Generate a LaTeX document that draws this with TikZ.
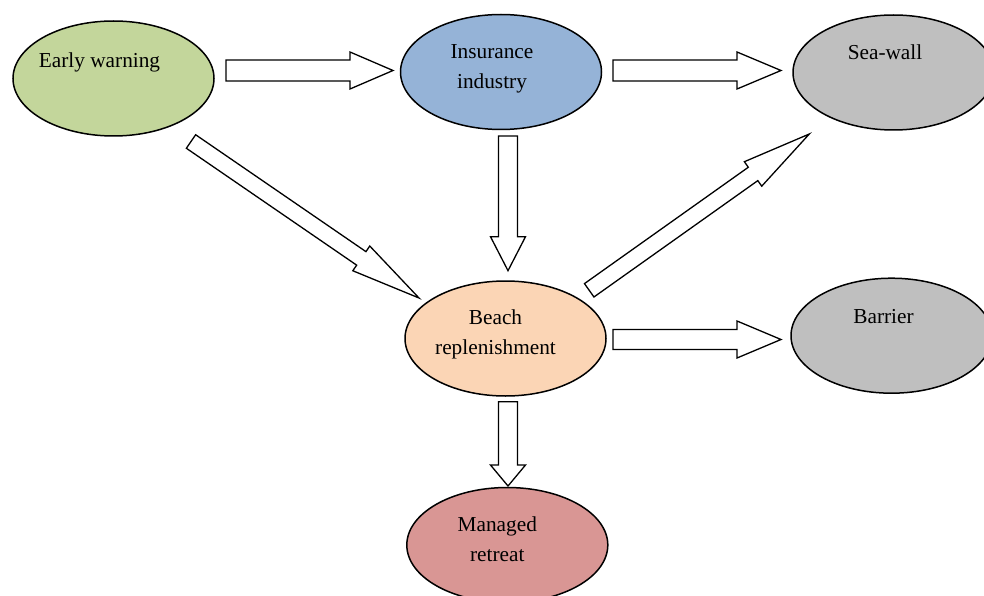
\documentclass[tikz,border=0pt]{standalone}
\usepackage{fontspec}
\setmainfont{Liberation Serif}
\usetikzlibrary{shapes.geometric,calc}

\definecolor{ewgreen}{HTML}{C3D69B}
\definecolor{insblue}{HTML}{95B3D7}
\definecolor{wallgray}{HTML}{BFBFBF}
\definecolor{beachtan}{HTML}{FBD5B5}
\definecolor{retreatred}{HTML}{D99694}

\tikzset{
  oval/.style={ellipse, draw=black, line width=1.5pt, inner sep=0pt,
    minimum width=201pt, minimum height=115pt},
  lbl/.style={anchor=base, inner sep=0pt, font=\fontsize{21.3}{30}\selectfont},
  blockarrow/.style={draw=black, fill=white, line width=1.3pt, line join=miter},
}

% hollow block arrow: #1 tail, #2 tip, #3 half shaft width,
% #4 half head width, #5 head length
\newcommand\blockarrow[5]{%
  \coordinate (ba-hb) at ($(#2)!#5!(#1)$);
  \draw[blockarrow]
    ($(#1)!#3!90:(#2)$) --
    ($(ba-hb)!#3!90:(#2)$) --
    ($(ba-hb)!#4!90:(#2)$) --
    (#2) --
    ($(ba-hb)!#4!-90:(#2)$) --
    ($(ba-hb)!#3!-90:(#2)$) --
    ($(#1)!#3!-90:(#2)$) -- cycle;
}

\newcommand\twolines[2]{\begin{tabular}[t]{@{}c@{}}#1\\#2\end{tabular}}

\begin{document}
\begin{tikzpicture}[x=1pt, y=-1pt]
\useasboundingbox (0,0) rectangle (984,596);
\clip (0,0) rectangle (984,596);

% ovals
\node[oval, fill=ewgreen]    (ew)  at (113.5,78.5) {};
\node[oval, fill=insblue]    (ins) at (501,72) {};
\node[oval, fill=wallgray]   (sw)  at (893.5,72.5) {};
\node[oval, fill=beachtan]   (bch) at (505.5,338.5) {};
\node[oval, fill=wallgray]   (bar) at (891.5,335.7) {};
\node[oval, fill=retreatred] (mr)  at (507.3,545) {};

% labels
\node[lbl] (ew-t)  at ($(ew)+(-14,-10.5)$)  {Early warning};
\node[lbl] (ins-t) at ($(ins)+(-9,-13)$)    {\twolines{Insurance}{industry}};
\node[lbl] (sw-t)  at ($(sw)+(-8.5,-12.5)$) {Sea-wall};
\node[lbl] (bch-t) at ($(bch)+(-10,-14.5)$) {\twolines{Beach}{replenishment}};
\node[lbl] (bar-t) at ($(bar)+(-8,-12.4)$)  {Barrier};
\node[lbl] (mr-t)  at ($(mr)+(-10,-13.5)$)  {\twolines{Managed}{retreat}};

% arrow ends
\coordinate (a1s) at (226,70.5);   \coordinate (a1e) at (393,70.5);
\coordinate (a2s) at (613,70.5);   \coordinate (a2e) at (781,70.5);
\coordinate (a3s) at (613,339.5);  \coordinate (a3e) at (781,339.5);
\coordinate (v1s) at (508,136);    \coordinate (v1e) at (508,270.7);
\coordinate (v2s) at (508,401.7);  \coordinate (v2e) at (508,486);
\coordinate (d1s) at (191,141.5);  \coordinate (d1e) at (419,298);
\coordinate (d2s) at (589.2,290.3);\coordinate (d2e) at (809.3,134);

% arrows
\blockarrow{a1s}{a1e}{10.5pt}{18.5pt}{43pt}
\blockarrow{a2s}{a2e}{10.5pt}{18.5pt}{44pt}
\blockarrow{a3s}{a3e}{10pt}{18.5pt}{44pt}
\blockarrow{v1s}{v1e}{9.5pt}{17.5pt}{34pt}
\blockarrow{v2s}{v2e}{9.5pt}{17.5pt}{21pt}
\blockarrow{d1s}{d1e}{8.2pt}{15pt}{70pt}
\blockarrow{d2s}{d2e}{8.2pt}{15pt}{69pt}
\end{tikzpicture}
\end{document}
